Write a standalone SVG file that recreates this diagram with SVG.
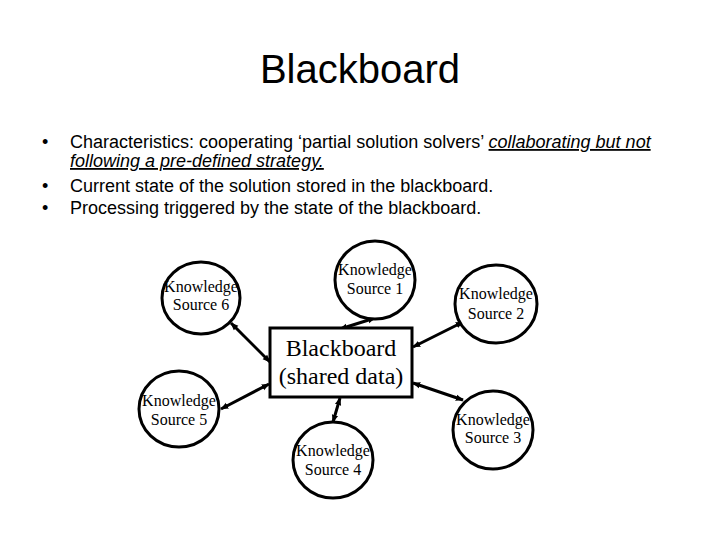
<svg xmlns="http://www.w3.org/2000/svg" width="720" height="540" viewBox="0 0 720 540">
<defs>
<style>
.title{font-family:"Liberation Sans",Arial,sans-serif;font-size:40px;fill:#000}
.body{font-family:"Liberation Sans",Arial,sans-serif;font-size:18px;fill:#000}
.em{font-style:italic;text-decoration:underline}
.ks{fill:#fff;stroke:#000;stroke-width:3}
.kt{font-family:"Liberation Serif","Times New Roman",serif;font-size:16px;fill:#000;text-anchor:middle}
.bt{font-family:"Liberation Serif","Times New Roman",serif;font-size:24px;fill:#000;text-anchor:middle}
.conn{stroke:#000;stroke-width:3;fill:none;marker-start:url(#ah);marker-end:url(#ah)}
</style>
<marker id="ah" viewBox="0 0 10 10" refX="9" refY="5" markerWidth="8" markerHeight="8" markerUnits="userSpaceOnUse" orient="auto-start-reverse">
<path d="M0,1 L10,5 L0,9 z" fill="#000"/>
</marker>
</defs>
<rect width="720" height="540" fill="#fff"/>
<text class="title" x="360" y="83" text-anchor="middle">Blackboard</text>
<g id="bullets">
<text class="body" x="42" y="148">•</text>
<text class="body" x="70" y="148">Characteristics: cooperating ‘partial solution solvers’ <tspan class="em">collaborating but not</tspan></text>
<text class="body em" x="70" y="167">following a pre-defined strategy.</text>
<text class="body" x="42" y="192">•</text>
<text class="body" x="70" y="192">Current state of the solution stored in the blackboard.</text>
<text class="body" x="42" y="214">•</text>
<text class="body" x="70" y="214">Processing triggered by the state of the blackboard.</text>
</g>
<g id="connectors">
<line class="conn" x1="375" y1="318" x2="340" y2="329"/>
<line class="conn" x1="231" y1="323" x2="270" y2="362"/>
<line class="conn" x1="463" y1="322" x2="413" y2="347"/>
<line class="conn" x1="413" y1="383" x2="463" y2="400"/>
<line class="conn" x1="269" y1="384" x2="221" y2="409"/>
<line class="conn" x1="340" y1="398" x2="333" y2="422"/>
</g>
<g id="blackboard">
<rect x="270" y="328" width="142" height="69" fill="#fff" stroke="#000" stroke-width="3"/>
<text class="bt" x="341" y="356">Blackboard</text>
<text class="bt" x="341" y="384">(shared data)</text>
</g>
<g id="ks1">
<ellipse class="ks" cx="375" cy="280" rx="40" ry="39"/>
<text class="kt" x="375" y="275">Knowledge</text>
<text class="kt" x="375" y="294">Source 1</text>
</g>
<g id="ks2">
<ellipse class="ks" cx="496" cy="304" rx="41" ry="39"/>
<text class="kt" x="496" y="299">Knowledge</text>
<text class="kt" x="496" y="319">Source 2</text>
</g>
<g id="ks3">
<ellipse class="ks" cx="493" cy="430" rx="40" ry="39"/>
<text class="kt" x="493" y="425">Knowledge</text>
<text class="kt" x="493" y="443">Source 3</text>
</g>
<g id="ks4">
<ellipse class="ks" cx="333" cy="460" rx="40" ry="38"/>
<text class="kt" x="333" y="456">Knowledge</text>
<text class="kt" x="333" y="475">Source 4</text>
</g>
<g id="ks5">
<ellipse class="ks" cx="179" cy="409" rx="40" ry="38"/>
<text class="kt" x="179" y="406">Knowledge</text>
<text class="kt" x="179" y="425">Source 5</text>
</g>
<g id="ks6">
<ellipse class="ks" cx="201" cy="298" rx="39" ry="36"/>
<text class="kt" x="201" y="292">Knowledge</text>
<text class="kt" x="201" y="310">Source 6</text>
</g>
</svg>
